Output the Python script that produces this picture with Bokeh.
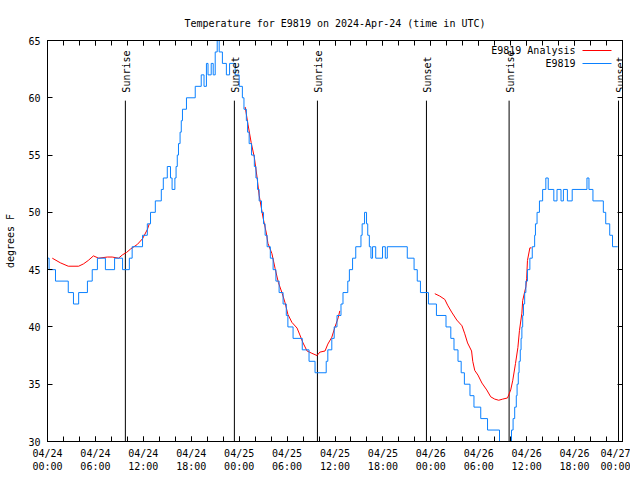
import math
from bokeh.plotting import figure
from bokeh.models import Range1d, FixedTicker, LinearAxis, Label, LabelSet, ColumnDataSource
from bokeh.core.properties import value
from bokeh.embed import file_html
from bokeh.resources import INLINE

# ---------------- data ----------------
title_text = "Temperature for E9819 on 2024-Apr-24 (time in UTC)"
y_label = "degrees F"
series_names = ["E9819 Analysis", "E9819"]

x_tick_hours = [0, 6, 12, 18, 24, 30, 36, 42, 48, 54, 60, 66, 72]
x_tick_labels = ["04/24\n00:00", "04/24\n06:00", "04/24\n12:00", "04/24\n18:00",
                 "04/25\n00:00", "04/25\n06:00", "04/25\n12:00", "04/25\n18:00",
                 "04/26\n00:00", "04/26\n06:00", "04/26\n12:00", "04/26\n18:00",
                 "04/27\n00:00"]
x_minor_hours = [h for h in range(0, 73, 2)]
y_ticks = [30, 35, 40, 45, 50, 55, 60, 65]

# observed temperature (hours since 04/24 00:00 UTC, deg F), step values
obs_h = [0.0, 0.2, 1.0, 2.6, 3.25, 3.9, 5.0, 5.6, 6.25, 7.25, 8.4, 9.4, 10.25, 10.6,
         11.9, 12.5, 12.9, 13.5, 14.25, 14.5, 15.0, 15.4, 15.6, 15.95, 16.1, 16.25,
         16.4, 16.6, 16.75, 16.9, 17.4, 18.5, 19.25, 19.6, 19.9, 20.1, 20.5, 20.75,
         21.0, 21.25, 21.5, 21.9, 22.4, 22.8, 23.5, 24.0, 24.4, 24.6, 24.9, 25.05,
         25.25, 25.55, 25.9, 26.1, 26.3, 26.5, 26.8, 27.05, 27.25, 27.5, 27.9, 28.25,
         28.6, 29.0, 29.5, 29.9, 30.1, 30.75, 31.9, 32.75, 33.5, 34.9, 35.1, 35.6,
         35.9, 36.25, 36.75, 37.0, 37.6, 37.8, 38.2, 38.6, 39.25, 39.4, 39.7, 39.95,
         40.1, 40.3, 40.5, 40.7, 41.1, 41.95, 42.3, 42.55, 45.05, 45.9, 46.3, 46.7,
         47.7, 48.7, 49.9, 50.5, 50.9, 51.4, 51.8, 52.2, 52.9, 53.4, 54.25, 55.1,
         56.6, 57.0, 57.75, 58.1, 58.3, 58.5, 58.7, 58.8, 58.95, 59.05, 59.2, 59.3,
         59.4, 59.5, 59.6, 59.75, 59.9, 60.1, 60.4, 60.7, 61.0, 61.1, 61.3, 61.6,
         62.0, 62.4, 62.7, 63.4, 63.8, 64.3, 64.6, 65.1, 65.7, 67.55, 67.8, 68.3,
         69.6, 69.9, 70.4, 70.75, 71.4]
obs_t = [46, 45, 44, 43, 42, 43, 44, 45, 46, 45, 46, 45, 46, 47,
         48, 49, 50, 51, 52, 53, 54, 53, 52, 53, 54, 55,
         56, 57, 58, 59, 60, 61, 62, 61, 63, 62, 63, 62,
         64, 65, 64, 63, 62, 63, 62, 61, 60, 59, 58, 57,
         56, 55, 54, 53, 52, 51, 50, 49, 48, 47, 46, 45,
         44, 43, 42, 41, 40, 39, 38, 37, 36, 37, 38, 39,
         40, 41, 42, 43, 44, 45, 46, 47, 48, 49, 50, 49,
         48, 47, 46, 47, 46, 47, 46, 47, 46, 45, 44, 43,
         42, 41, 40, 39, 38, 37, 36, 35, 34, 33, 32, 31,
         30, 29, 30, 31, 32, 33, 34, 35, 36, 37, 38, 39,
         40, 41, 42, 43, 44, 45, 46, 47, 48, 49, 50, 51,
         52, 53, 52, 51, 52, 51, 52, 51, 52, 53, 52, 51,
         50, 49, 48, 47, 47]

NAN = float("nan")
# analysis temperature (gaps where no analysis)
ana_h = [0.6, 1.6, 2.6, 3.9, 4.5, 5.1, 5.75, 6.4, 7.5, 8.1, 8.9, 9.4, 9.9, 10.4,
         11.25, 11.9, 12.5, 12.75, NAN,
         24.75, 25.1, 25.5, 25.9, 26.25, 26.5, 27.0, 27.4, 27.6, 28.1, 28.5, 28.9,
         29.4, 29.75, 30.1, 30.6, 31.25, 31.6, 32.0, 32.5, 33.1, 33.75, 34.1, 34.75,
         35.1, 35.6, 36.0, 36.4, 36.6, NAN,
         48.5, 49.1, 49.75, 50.1, 50.6, 51.25, 51.9, 52.25, 52.6, 53.1, 53.25, 53.5,
         53.9, 54.4, 55.0, 55.5, 56.0, 56.5, 57.0, 57.6, 58.0, 58.25, 58.6, 58.9,
         59.1, 59.4, 59.5, 59.9, 60.0, 60.1, 60.4, 60.6]
ana_t = [46.0, 45.6, 45.3, 45.3, 45.5, 45.8, 46.2, 46.0, 46.1, 46.1, 46.0, 46.3, 46.5, 46.8,
         47.2, 47.7, 48.5, 49.0, NAN,
         59.2, 57.7, 56.1, 54.8, 53.0, 51.5, 49.5, 48.2, 47.3, 46.4, 45.1, 43.9,
         42.9, 42.1, 41.1, 40.4, 39.9, 39.3, 38.6, 37.9, 37.7, 37.5, 37.8, 37.9,
         38.5, 39.1, 40.0, 40.8, 41.4, NAN,
         42.9, 42.7, 42.4, 41.9, 41.3, 40.6, 40.1, 39.4, 38.6, 37.9, 37.0, 36.2,
         35.8, 35.1, 34.5, 33.9, 33.7, 33.6, 33.7, 33.8, 34.5, 35.3, 36.8, 38.2,
         39.7, 41.2, 42.3, 43.5, 44.2, 45.8, 46.9, 46.9]

sun_names = ["Sunrise", "Sunset", "Sunrise", "Sunset", "Sunrise", "Sunset"]
sun_hours = [9.75, 23.4, 33.8, 47.45, 57.8, 71.5]

# ---------------- style / layout ----------------
FONT = "DejaVu Sans Mono"
FS = "10px"
BLUE = "#0a80ff"
RED = "#ff0000"
X0, X1, Y0, Y1 = 0, 72, 30, 65
W, H = 630, 476
FL, FT, FR, FB = 47, 40, 622, 441   # frame edges in pixels

p = figure(width=W, height=H, x_range=Range1d(X0, X1), y_range=Range1d(Y0, Y1),
           output_backend="svg", toolbar_location=None,
           min_border_left=FL, min_border_right=W - FR, min_border_top=FT,
           min_border_bottom=H - FB)
p.title.text = title_text
p.title.align = "center"
p.title.text_font = FONT
p.title.text_font_size = FS
p.title.text_font_style = "normal"
p.title.text_color = "black"
p.title.standoff = 23
p.grid.visible = False
p.outline_line_color = "black"
p.outline_line_alpha = 1
p.background_fill_color = "white"
p.border_fill_color = "white"

xt = FixedTicker(ticks=x_tick_hours, minor_ticks=x_minor_hours)
yt = FixedTicker(ticks=y_ticks, minor_ticks=[])

def style_axis(ax, labels=True):
    ax.axis_line_color = "black"
    ax.major_tick_in = 5
    ax.major_tick_out = 0
    ax.minor_tick_in = 5
    ax.minor_tick_out = 0
    ax.major_tick_line_color = "black"
    ax.minor_tick_line_color = "black"
    ax.major_label_text_font = FONT
    ax.major_label_text_font_size = FS if labels else "0px"
    ax.major_label_text_color = "black"
    if not labels:
        ax.major_label_standoff = 0

xa = p.xaxis[0]
xa.ticker = xt
xa.major_label_overrides = {h: s for h, s in zip(x_tick_hours, x_tick_labels)}
style_axis(xa)
xa.major_label_standoff = 6

ya = p.yaxis[0]
ya.ticker = yt
style_axis(ya)
ya.major_label_standoff = 7
ya.axis_label = y_label
ya.axis_label_text_font = FONT
ya.axis_label_text_font_size = FS
ya.axis_label_text_font_style = "normal"
ya.axis_label_text_color = "black"
ya.axis_label_standoff = 9

top = LinearAxis(ticker=xt)
style_axis(top, labels=False)
top.major_label_overrides = {h: "" for h in x_tick_hours}
p.add_layout(top, "above")
right = LinearAxis(ticker=yt)
style_axis(right, labels=False)
right.major_label_overrides = {h: "" for h in y_ticks}
p.add_layout(right, "right")

# sun event lines (from bottom to 85% of graph height)
sun_top = Y0 + 0.85 * (Y1 - Y0)
p.segment(x0=sun_hours, y0=[Y0] * len(sun_hours), x1=sun_hours, y1=[sun_top] * len(sun_hours),
          line_color="black", line_width=1)
sun_src = ColumnDataSource(dict(x=sun_hours, y=[Y0 + 0.87 * (Y1 - Y0)] * len(sun_hours), t=sun_names))
p.add_layout(LabelSet(x="x", y="y", text="t", source=sun_src, angle=math.pi / 2,
                      text_align="left", text_baseline="middle", x_offset=1.5,
                      text_font=value(FONT), text_font_size=FS, text_color="black"))

# series
p.line(ana_h, ana_t, line_color=RED, line_width=1)
p.step(obs_h, obs_t, mode="after", line_color=BLUE, line_width=1)

# legend (label text, then a line sample to its right, gnuplot style)
def px_to_x(px):
    return X0 + (px - FL) / (FR - FL) * (X1 - X0)

def py_to_y(py):
    return Y0 + (FB - py) / (FB - FT) * (Y1 - Y0)

leg_y = [py_to_y(50), py_to_y(63)]
leg_src = ColumnDataSource(dict(x0=[px_to_x(582)] * 2, x1=[px_to_x(611)] * 2, y=leg_y,
                                c=[RED, BLUE]))
p.segment(x0="x0", y0="y", x1="x1", y1="y", line_color="c", line_width=1, source=leg_src)
for name, yy in zip(series_names, leg_y):
    p.add_layout(Label(x=px_to_x(575), y=yy, text=name, text_align="right",
                       text_baseline="middle", text_font=FONT, text_font_size=FS,
                       text_color="black"))

open("out.html", "w").write(file_html(p, INLINE))
